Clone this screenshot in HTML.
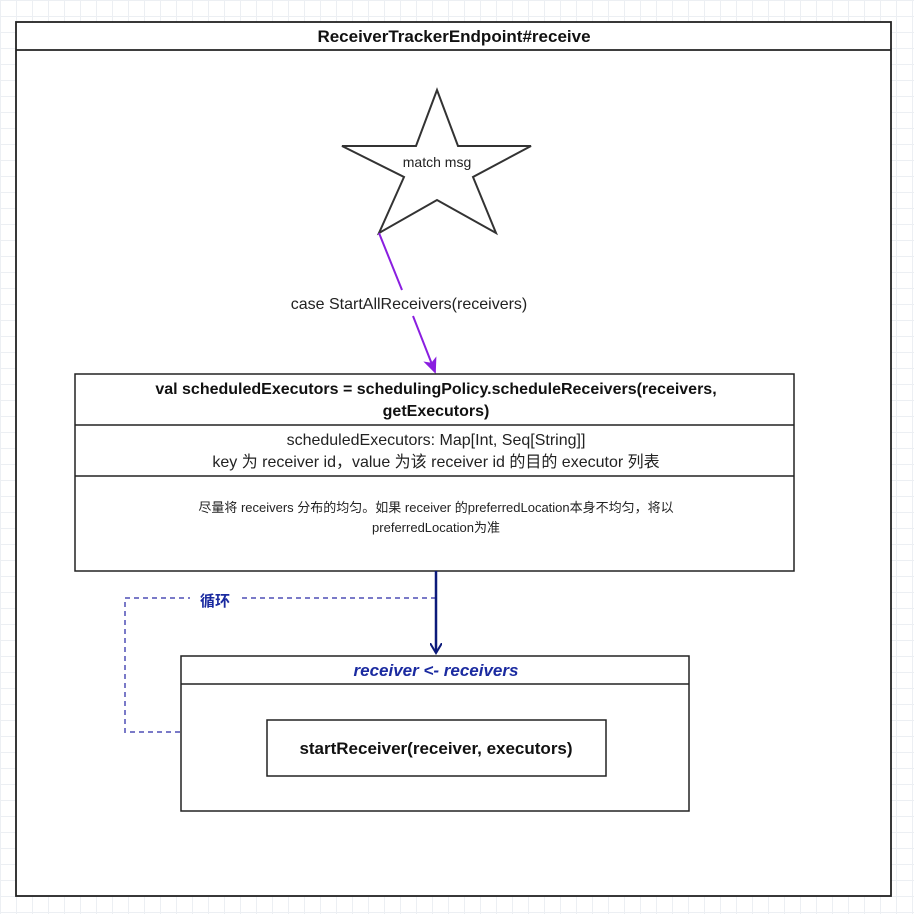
<!DOCTYPE html>
<html><head><meta charset="utf-8"><style>
html,body{margin:0;padding:0;width:914px;height:914px;overflow:hidden;background:#fff;
background-image:linear-gradient(#eceff3 1px,transparent 1px),linear-gradient(90deg,#eceff3 1px,transparent 1px);background-size:16px 16px;}
svg{position:absolute;left:0;top:0}
text{font-family:"Liberation Sans","Noto Sans CJK SC",sans-serif;}
</style></head><body>
<svg width="914" height="914" viewBox="0 0 914 914">
<defs>
<marker id="pa" markerWidth="16" markerHeight="14" refX="14" refY="7" orient="auto" markerUnits="userSpaceOnUse"><path d="M0,0 L16,7 L0,14 L4,7 Z" fill="#8a1ee0"/></marker>
<marker id="ba" markerWidth="12" markerHeight="12" refX="10" refY="6" orient="auto" markerUnits="userSpaceOnUse"><path d="M0,0 L10,6 L0,12" fill="none" stroke="#0c1a7a" stroke-width="2"/></marker>
</defs>
<rect x="16" y="22" width="875" height="874" fill="#fff" stroke="#222" stroke-width="1.8"/>
<line x1="16" y1="50" x2="891" y2="50" stroke="#222" stroke-width="1.8"/>
<text x="454" y="42" text-anchor="middle" font-size="17" font-weight="bold" fill="#111">ReceiverTrackerEndpoint#receive</text>
<polygon points="437,90 458,146 531,146 473,177 496,233 437,200 379,233 404,177 342,146 416,146" fill="#fff" stroke="#333" stroke-width="2"/>
<text x="437" y="167" text-anchor="middle" font-size="14" fill="#222">match msg</text>
<line x1="379" y1="233" x2="402" y2="290" stroke="#8a1ee0" stroke-width="2"/>
<line x1="413" y1="316" x2="435" y2="372" stroke="#8a1ee0" stroke-width="2" marker-end="url(#pa)"/>
<text x="409" y="309" text-anchor="middle" font-size="16" fill="#222">case StartAllReceivers(receivers)</text>
<rect x="75" y="374" width="719" height="197" fill="#fff" stroke="#222" stroke-width="1.5"/>
<line x1="75" y1="425" x2="794" y2="425" stroke="#222" stroke-width="1.5"/>
<line x1="75" y1="476" x2="794" y2="476" stroke="#222" stroke-width="1.5"/>
<text x="436" y="394" text-anchor="middle" font-size="16" font-weight="bold" fill="#111">val scheduledExecutors = schedulingPolicy.scheduleReceivers(receivers,</text>
<text x="436" y="416" text-anchor="middle" font-size="16" font-weight="bold" fill="#111">getExecutors)</text>
<text x="436" y="445" text-anchor="middle" font-size="16" fill="#222">scheduledExecutors: Map[Int, Seq[String]]</text>
<text x="436" y="467" text-anchor="middle" font-size="16" fill="#222">key 为 receiver id，value 为该 receiver id 的目的 executor 列表</text>
<text x="436" y="512" text-anchor="middle" font-size="13" fill="#222">尽量将 receivers 分布的均匀。如果 receiver 的preferredLocation本身不均匀，将以</text>
<text x="436" y="532" text-anchor="middle" font-size="13" fill="#222">preferredLocation为准</text>
<path d="M436,598 H125 V732 H181" fill="none" stroke="#7a7ac8" stroke-width="2" stroke-dasharray="5,4"/>
<rect x="190" y="589" width="50" height="20" fill="#fff"/>
<text x="215" y="606" text-anchor="middle" font-size="15" font-weight="bold" fill="#1a2aa0">循环</text>
<line x1="436" y1="571" x2="436" y2="653" stroke="#0c1a7a" stroke-width="2.5" marker-end="url(#ba)"/>
<rect x="181" y="656" width="508" height="155" fill="#fff" stroke="#222" stroke-width="1.5"/>
<line x1="181" y1="684" x2="689" y2="684" stroke="#222" stroke-width="1.5"/>
<text x="436" y="676" text-anchor="middle" font-size="17" font-weight="bold" font-style="italic" fill="#1a2aa0">receiver &lt;- receivers</text>
<rect x="267" y="720" width="339" height="56" fill="#fff" stroke="#222" stroke-width="1.5"/>
<text x="436" y="754" text-anchor="middle" font-size="17" font-weight="bold" fill="#111">startReceiver(receiver, executors)</text>
</svg>
</body></html>
